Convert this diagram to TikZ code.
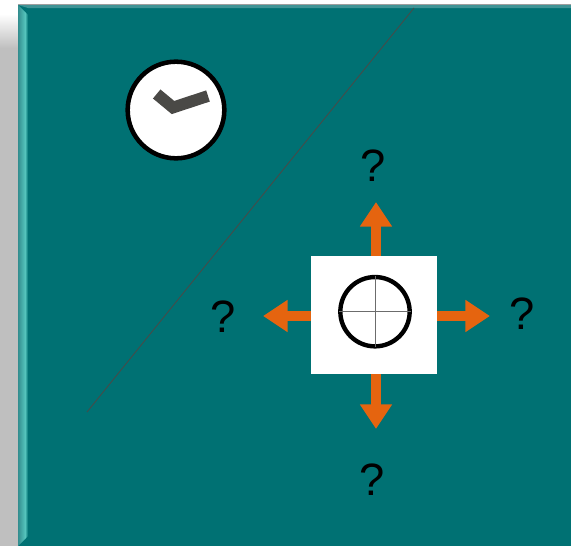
\documentclass[tikz,border=0pt]{standalone}
\usepackage{fontspec}
\setmainfont{Liberation Sans}
\usepackage{tikz}
\usetikzlibrary{arrows.meta,positioning}
\definecolor{panelteal}{HTML}{007173}
\definecolor{bevelteal}{HTML}{55C4BC}
\definecolor{arroworange}{HTML}{E5640F}
\definecolor{handgray}{HTML}{4A4946}

\begin{document}
\begin{tikzpicture}[
    x=0.75pt, y=-0.75pt,
    query/.style={font=\fontsize{34}{34}\selectfont, inner sep=0pt},
    dial/.style={circle, draw=black, fill=white, inner sep=0pt},
    move/.style={arroworange, line width=7.5pt, -{Triangle[length=18.5pt, width=23pt]}},
    hair/.style={draw=gray!85!black, line width=0.75pt, shorten >=1pt, shorten <=1pt}
]
    \useasboundingbox (0,0) rectangle (571,546);

    % shadow and panel
    \shade[top color=white, bottom color=black!25] (0,14) rectangle (18,48);
    \fill[black!25] (0,48) rectangle (18,546);
    \fill[black!38] (18,4) rectangle (571,6);
    \fill[panelteal] (18,5) rectangle (571,546);
    \fill[panelteal!75!white] (18,5) -- (571,5) -- (571,8) -- (28,8) -- cycle;
    \begin{scope}
        \clip (18,5) -- (28,15) -- (28,536) -- (18,546) -- cycle;
        \shade[left color=panelteal!80!white, right color=bevelteal] (18,5) rectangle (25,546);
        \shade[left color=bevelteal, right color=panelteal] (25,5) rectangle (28,546);
    \end{scope}

    \coordinate (lineTop) at (414,8);
    \coordinate (lineEnd) at (87,412);
    \draw[handgray, line width=0.6pt] (lineTop) -- (lineEnd);

    % clock
    \node[dial, minimum size=72.5pt, line width=3.4pt] (clock) at (176,110) {};
    \coordinate (hourEnd) at (156.7,94);
    \coordinate (elbow) at (173,107.5);
    \coordinate (minuteEnd) at (208,96);
    \draw[handgray, line width=8.8pt] (hourEnd) -- (elbow) -- (minuteEnd);

    % centre
    \node[fill=white, minimum width=94.5pt, minimum height=88.5pt, inner sep=0pt] (board) at (374,315) {};
    \node[dial, minimum size=52pt, line width=3.3pt] (target) at (375,311.7) {};
    \draw[hair] (target.north) -- (target.south);
    \draw[hair] (target.west) -- (target.east);

    \coordinate (tipUp) at (376,202);
    \coordinate (tipDown) at (376,429);
    \coordinate (tipLeft) at (263,316);
    \coordinate (tipRight) at (490,316);
    \draw[move] (tipUp |- board.north) -- (tipUp);
    \draw[move] (tipDown |- board.south) -- (tipDown);
    \draw[move] (tipLeft -| board.west) -- (tipLeft);
    \draw[move] (tipRight -| board.east) -- (tipRight);

    \node[query] (askUp) at (373.5,166) {?};
    \node[query] (askDown) at (372,480) {?};
    \node[query] (askLeft) at (223,317) {?};
    \node[query] (askRight) at (522,314) {?};
\end{tikzpicture}
\end{document}
